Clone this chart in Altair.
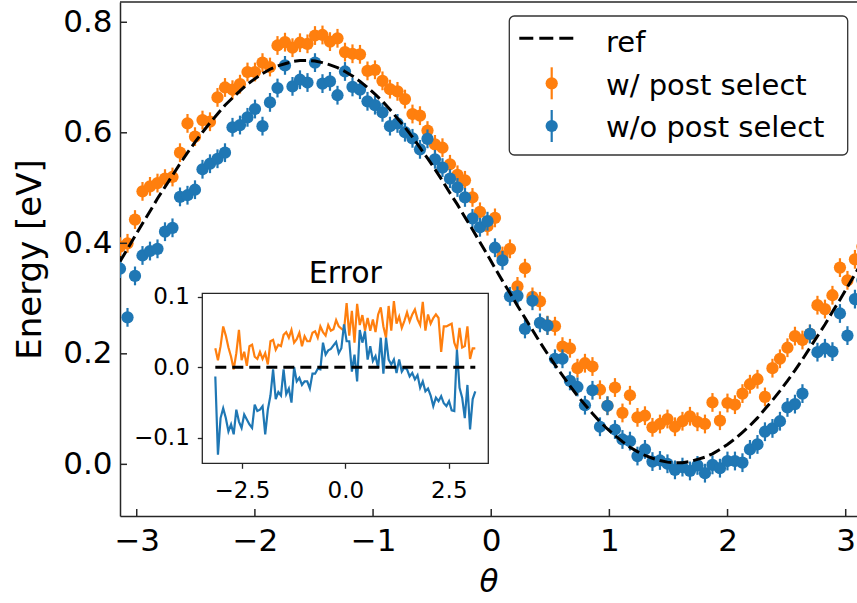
import numpy as np
import pandas as pd
import altair as alt

# ---------------- data ----------------
N_POINTS = 100
THETA = np.linspace(-np.pi, np.pi, N_POINTS)

REF = [0.367, 0.390, 0.413, 0.436, 0.458, 0.481, 0.502, 0.523, 0.544, 0.564,
       0.583, 0.601, 0.618, 0.634, 0.650, 0.663, 0.676, 0.688, 0.698, 0.707,
       0.715, 0.721, 0.725, 0.729, 0.731, 0.731, 0.730, 0.727, 0.723, 0.718,
       0.711, 0.703, 0.693, 0.682, 0.670, 0.657, 0.642, 0.626, 0.610, 0.592,
       0.573, 0.554, 0.534, 0.513, 0.491, 0.470, 0.447, 0.425, 0.402, 0.379,
       0.355, 0.332, 0.310, 0.287, 0.265, 0.243, 0.221, 0.200, 0.180, 0.161,
       0.142, 0.124, 0.108, 0.092, 0.077, 0.064, 0.052, 0.041, 0.031, 0.023,
       0.016, 0.011, 0.007, 0.004, 0.003, 0.003, 0.005, 0.009, 0.013, 0.019,
       0.027, 0.036, 0.046, 0.058, 0.070, 0.084, 0.100, 0.116, 0.133, 0.151,
       0.170, 0.190, 0.211, 0.232, 0.253, 0.276, 0.298, 0.321, 0.344, 0.367]

# error (= measured - ref) with post selection (orange)
ERR_POST = [0.027, 0.010, 0.030, 0.058, 0.045, 0.028, 0.015, -0.003, 0.020, 0.053,
            0.010, 0.022, 0.002, 0.030, 0.032, 0.015, 0.012, 0.022, 0.012, 0.020,
            0.004, 0.037, 0.039, 0.025, 0.032, 0.030, 0.046, 0.050, 0.042, 0.053,
            0.035, 0.040, 0.049, 0.030, 0.044, 0.037, 0.037, 0.049, 0.051, 0.042,
            0.058, 0.050, 0.045, 0.060, 0.052, 0.054, 0.067, 0.058, 0.055, 0.052,
            0.091, 0.045, 0.080, 0.035, 0.090, 0.060, 0.074, 0.052, 0.070, 0.052,
            0.068, 0.050, 0.075, 0.085, 0.058, 0.042, 0.087, 0.052, 0.094, 0.062,
            0.072, 0.056, 0.066, 0.078, 0.065, 0.075, 0.082, 0.068, 0.060, 0.093,
            0.052, 0.075, 0.062, 0.070, 0.075, 0.070, 0.022, 0.058, 0.058, 0.060,
            0.062, 0.035, 0.025, 0.056, 0.028, 0.030, 0.058, 0.012, 0.027, 0.027]

# error without post selection (blue)
ERR_RAW = [-0.013, -0.124, -0.072, -0.058, -0.072, -0.091, -0.081, -0.095, -0.060, -0.077,
           -0.086, -0.067, -0.074, -0.081, -0.086, -0.053, -0.062, -0.060, -0.055, -0.095,
           -0.060, -0.040, -0.003, -0.045, -0.035, -0.040, -0.003, -0.038, -0.030, -0.050,
           0.000, -0.020, -0.015, -0.025, -0.020, -0.020, -0.030, -0.009, -0.009, -0.002,
           -0.003, 0.035, 0.018, 0.024, 0.026, 0.031, 0.036, 0.020, 0.027, 0.061,
           0.037, 0.037, -0.006, 0.018, -0.020, 0.053, 0.035, 0.051, 0.011, 0.030,
           0.009, 0.016, -0.001, 0.042, -0.009, 0.042, 0.011, 0.004, 0.011, -0.008,
           0.011, -0.006, 0.000, -0.003, -0.013, -0.008, -0.017, -0.011, -0.029, -0.020,
           -0.034, -0.030, -0.040, -0.055, -0.043, -0.048, -0.041, -0.051, -0.055, -0.048,
           -0.061, -0.062, 0.025, -0.029, -0.043, -0.072, -0.025, -0.088, -0.045, -0.034]

ERRBAR = 0.017  # half length of the error bars

X_TICKS = [-3, -2, -1, 0, 1, 2, 3]
Y_TICKS = [0.0, 0.2, 0.4, 0.6, 0.8]
INSET_X_TICKS = [-2.5, 0.0, 2.5]
INSET_Y_TICKS = [-0.1, 0.0, 0.1]
LEGEND_LABELS = ["ref", "w/ post select", "w/o post select"]
INSET_TITLE = "Error"
X_TITLE = "θ"
Y_TITLE = "Energy [eV]"

# ---------------- styling ----------------
ORANGE = "#ff7f0e"
BLUE = "#1f77b4"
INK = "#262626"
FONT = "DejaVu Sans"
W, H = 737, 514
MSIZE = 150

df = pd.DataFrame({"theta": THETA, "ref": REF, "err_post": ERR_POST, "err_raw": ERR_RAW})
df["post"] = df["ref"] + df["err_post"]
df["raw"] = df["ref"] + df["err_raw"]
df["post_lo"] = df["post"] - ERRBAR
df["post_hi"] = df["post"] + ERRBAR
df["raw_lo"] = df["raw"] - ERRBAR
df["raw_hi"] = df["raw"] + ERRBAR
df["zero"] = df["ref"] - df["ref"]

one = pd.DataFrame({"k": [0]})

xs = alt.Scale(domain=[-np.pi, 3.0955], nice=False, zero=False)
ys = alt.Scale(domain=[-0.0935, 0.8367], nice=False, zero=False)

ax_x = alt.Axis(values=X_TICKS, format="d", labelFontSize=31, labelFont=FONT, labelColor="black",
                ticks=False, domain=True, domainColor=INK, domainWidth=1.5, grid=False,
                labelPadding=10, labelFlush=False, labelOverlap=False,
                title=X_TITLE, titleFont=FONT, titleFontStyle="italic", titleFontSize=31,
                titleFontWeight="normal", titleColor="black", titlePadding=11)
ax_y = alt.Axis(values=Y_TICKS, format=".1f", labelFontSize=31, labelFont=FONT, labelColor="black",
                ticks=False, domain=True, domainColor=INK, domainWidth=1.5, grid=False,
                labelPadding=8, labelFlush=False, labelOverlap=False,
                title=Y_TITLE, titleFont=FONT, titleFontSize=34, titleFontWeight="normal",
                titleColor="black", titlePadding=15)


def X(field):
    return alt.X(field, type="quantitative", scale=xs, axis=ax_x)


def Y(field):
    return alt.Y(field, type="quantitative", scale=ys, axis=ax_y)


base = alt.Chart(df)

post_bars = base.mark_rule(color=ORANGE, strokeWidth=2.2, clip=True).encode(
    x=X("theta"), y=Y("post_lo"), y2="post_hi")
post_pts = base.mark_circle(color=ORANGE, size=MSIZE, opacity=1, clip=True).encode(
    x=X("theta"), y=Y("post"))
raw_bars = base.mark_rule(color=BLUE, strokeWidth=2.2, clip=True).encode(
    x=X("theta"), y=Y("raw_lo"), y2="raw_hi")
raw_pts = base.mark_circle(color=BLUE, size=MSIZE, opacity=1, clip=True).encode(
    x=X("theta"), y=Y("raw"))
ref_line = base.mark_line(color="black", strokeWidth=3, strokeDash=[12, 5], clip=True).encode(
    x=X("theta"), y=Y("ref"))

xt = alt.Chart(pd.DataFrame({"t": X_TICKS})).mark_rule(color=INK, strokeWidth=1.5).encode(
    x=X("t"), y=alt.value(H), y2=alt.value(H - 7))
yt = alt.Chart(pd.DataFrame({"t": Y_TICKS})).mark_rule(color=INK, strokeWidth=1.5).encode(
    y=Y("t"), x=alt.value(0), x2=alt.value(7))
top_spine = alt.Chart(one).mark_rule(color=INK, strokeWidth=1.5).encode(
    x=alt.value(0), x2=alt.value(W), y=alt.value(0))

# legend
leg_box = alt.Chart(one).mark_rect(fill="white", stroke="#333333", strokeWidth=1.3,
                                   cornerRadius=5).encode(
    x=alt.value(389.3), x2=alt.value(727.7), y=alt.value(14), y2=alt.value(153))
leg_ref = alt.Chart(one).mark_rule(color="black", strokeWidth=3, strokeDash=[14, 6]).encode(
    x=alt.value(399.3), x2=alt.value(456.7), y=alt.value(36.3))
leg_o_bar = alt.Chart(one).mark_rule(color=ORANGE, strokeWidth=2.2).encode(
    x=alt.value(431.7), y=alt.value(65.3), y2=alt.value(97.3))
leg_o_pt = alt.Chart(one).mark_circle(color=ORANGE, size=MSIZE, opacity=1).encode(
    x=alt.value(431.7), y=alt.value(81.3))
leg_b_bar = alt.Chart(one).mark_rule(color=BLUE, strokeWidth=2.2).encode(
    x=alt.value(431.7), y=alt.value(108), y2=alt.value(140))
leg_b_pt = alt.Chart(one).mark_circle(color=BLUE, size=MSIZE, opacity=1).encode(
    x=alt.value(431.7), y=alt.value(124))
leg_texts = []
for lab, yy in zip(LEGEND_LABELS, [49.7, 93, 135.3]):
    leg_texts.append(alt.Chart(one).mark_text(font=FONT, fontSize=29, color="black",
                                              align="left", baseline="alphabetic").encode(
        x=alt.value(486), y=alt.value(yy), text=alt.value(lab)))

main = alt.layer(post_bars, post_pts, raw_bars, raw_pts, ref_line, xt, yt, top_spine,
                 leg_box, leg_ref, leg_o_bar, leg_o_pt, leg_b_bar, leg_b_pt, *leg_texts)

# ---------------- inset ----------------
ixs = alt.Scale(domain=[-5.445, 12.366], nice=False, zero=False)
iys = alt.Scale(domain=[-0.2109, 0.5182], nice=False, zero=False)
iax_x = alt.Axis(values=INSET_X_TICKS, format=".1f", orient="bottom", offset=-52.7,
                 tickSize=5, tickColor=INK, tickWidth=1.3, domain=False, grid=False,
                 labelFontSize=23, labelFont=FONT, labelColor="black", labelPadding=11,
                 labelFlush=False, labelOverlap=False, title=None, zindex=1)
iax_y = alt.Axis(values=INSET_Y_TICKS, format=".1f", orient="left", offset=-82.3,
                 tickSize=5, tickColor=INK, tickWidth=1.3, domain=False, grid=False,
                 labelFontSize=23, labelFont=FONT, labelColor="black", labelPadding=8,
                 labelFlush=False, labelOverlap=False, title=None, zindex=1)


def IX(field):
    return alt.X(field, type="quantitative", scale=ixs, axis=iax_x)


def IY(field):
    return alt.Y(field, type="quantitative", scale=iys, axis=iax_y)


inset_box = alt.Chart(one).mark_rect(fill="white", stroke=INK, strokeWidth=1.3).encode(
    x=alt.value(82.3), x2=alt.value(368.3), y=alt.value(291.3), y2=alt.value(461.3))
inset_post = base.mark_line(color=ORANGE, strokeWidth=2.2).encode(x=IX("theta"), y=IY("err_post"))
inset_raw = base.mark_line(color=BLUE, strokeWidth=2.2).encode(x=IX("theta"), y=IY("err_raw"))
inset_zero = base.mark_line(color="black", strokeWidth=3, strokeDash=[11, 6]).encode(
    x=IX("theta"), y=IY("zero"))
inset_title = alt.Chart(one).mark_text(font=FONT, fontSize=30, color="black", align="center",
                                       baseline="alphabetic").encode(
    x=alt.value(225.3), y=alt.value(281.3), text=alt.value(INSET_TITLE))

inset = alt.layer(inset_box, inset_post, inset_raw, inset_zero, inset_title)

chart = alt.layer(main, inset).resolve_scale(x="independent", y="independent").properties(
    width=W, height=H, autosize="none",
    padding={"left": 120, "top": 2, "right": 0, "bottom": 87},
    background="white",
).configure_view(strokeWidth=0)

chart.save("out.html", embed_options={"renderer": "svg", "actions": False})
